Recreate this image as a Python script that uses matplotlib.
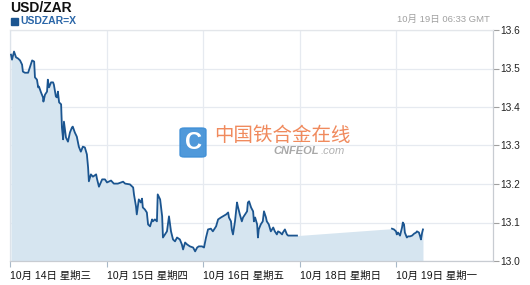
import matplotlib
matplotlib.use("Agg")
import matplotlib.pyplot as plt
from matplotlib.patches import FancyBboxPatch, Rectangle

plt.rcParams['font.family'] = ['Liberation Sans', 'Noto Sans CJK SC', 'DejaVu Sans']

title = "USD/ZAR"
series_name = "USDZAR=X"
timestamp = "10月 19日 06:33 GMT"
tick_labels = ["10月 14日 星期三", "10月 15日 星期四", "10月 16日 星期五",
               "10月 18日 星期日", "10月 19日 星期一"]
tick_hours = [0, 24, 48, 72, 96]
y_ticks = [13.0, 13.1, 13.2, 13.3, 13.4, 13.5, 13.6]

# segment 1 (hours since 14 Oct on the trading axis)
t1 = [0.25, 0.5, 1.0, 1.5, 2.0, 2.5, 3.0, 3.2, 3.7, 4.5, 5.0, 5.5, 6.0, 6.2, 6.7, 7.0,
      7.2, 7.7, 8.2, 8.3, 8.7, 9.2, 9.4, 9.7, 10.2, 10.7, 10.9, 11.4, 11.7, 11.9, 12.2,
      12.7, 12.9, 13.2, 13.4, 13.9, 14.4, 14.9, 15.4, 15.6, 16.1, 16.6, 17.1, 17.6, 18.1,
      18.6, 19.1, 19.4, 19.6, 20.1, 20.6, 21.4, 21.6, 22.1, 22.9, 23.6, 24.1, 25.1, 25.8,
      26.8, 28.1, 28.6, 29.8, 30.6, 30.8, 31.3, 31.5, 32.0, 32.5, 32.8, 33.0, 33.5, 34.0,
      34.3, 34.8, 35.3, 35.5, 36.0, 36.5, 36.7, 37.3, 37.8, 38.0, 38.5, 39.0, 39.5, 40.0,
      40.5, 41.0, 41.5, 42.2, 42.7, 43.0, 43.5, 44.0, 44.7, 45.5, 46.0, 46.5, 46.9, 47.7,
      48.2, 48.7, 49.2, 49.9, 50.4, 51.2, 51.7, 52.4, 52.9, 53.7, 54.2, 54.4, 54.9, 55.1,
      55.4, 55.9, 56.4, 56.6, 57.1, 57.6, 57.9, 58.4, 58.9, 59.1, 59.4, 59.9, 60.4, 60.6,
      60.9, 61.4, 61.6, 61.8, 62.3, 62.8, 63.1, 63.6, 63.8, 64.3, 64.8, 65.4, 65.8, 66.3,
      66.6, 67.1, 67.6, 67.8, 68.3, 68.8, 69.1, 71.3]
v1 = [13.536, 13.523, 13.544, 13.529, 13.526, 13.521, 13.510, 13.492, 13.489, 13.489,
      13.505, 13.521, 13.518, 13.477, 13.471, 13.451, 13.453, 13.438, 13.425, 13.414,
      13.432, 13.440, 13.471, 13.451, 13.464, 13.464, 13.458, 13.427, 13.425, 13.440,
      13.412, 13.407, 13.347, 13.316, 13.362, 13.321, 13.310, 13.334, 13.347, 13.349,
      13.334, 13.323, 13.297, 13.284, 13.297, 13.295, 13.277, 13.243, 13.207, 13.225,
      13.219, 13.225, 13.214, 13.193, 13.212, 13.212, 13.204, 13.209, 13.201, 13.201,
      13.206, 13.201, 13.199, 13.191, 13.173, 13.142, 13.121, 13.160, 13.152, 13.162,
      13.139, 13.134, 13.126, 13.095, 13.090, 13.108, 13.103, 13.108, 13.103, 13.173,
      13.160, 13.116, 13.061, 13.069, 13.077, 13.116, 13.077, 13.056, 13.051, 13.061,
      13.056, 13.043, 13.030, 13.048, 13.043, 13.038, 13.035, 13.025, 13.035, 13.038,
      13.038, 13.035, 13.061, 13.082, 13.084, 13.077, 13.090, 13.108, 13.113, 13.116,
      13.121, 13.126, 13.113, 13.103, 13.082, 13.069, 13.103, 13.152, 13.142, 13.121,
      13.103, 13.113, 13.121, 13.129, 13.152, 13.155, 13.139, 13.129, 13.103, 13.113,
      13.095, 13.061, 13.082, 13.095, 13.103, 13.129, 13.113, 13.103, 13.095, 13.077,
      13.087, 13.077, 13.069, 13.077, 13.074, 13.069, 13.074, 13.082, 13.069, 13.066,
      13.066]

# segment 2
t2 = [94.9, 95.4, 95.9, 96.1, 96.4, 96.9, 97.4, 97.6, 97.9, 98.1, 98.6, 98.9, 99.4,
      99.9, 100.4, 100.9, 101.1, 101.6, 101.9, 102.1, 102.4, 102.6]
v2 = [13.084, 13.082, 13.077, 13.069, 13.074, 13.066, 13.087, 13.100, 13.095, 13.074,
      13.061, 13.064, 13.064, 13.066, 13.071, 13.074, 13.077, 13.074, 13.064, 13.056,
      13.074, 13.082]

W, H = 530, 285
fig = plt.figure(figsize=(W / 100, H / 100), dpi=100)
ax = fig.add_axes([10 / W, 1 - 261 / H, 483 / W, 231 / H])

line_c = '#1b5590'
fill_c = '#d6e5f0'
grid_c = '#e6eaf0'

ax.fill_between(t1 + t2, v1 + v2, 13.0, color=fill_c, lw=0, zorder=1)
ax.plot(t1, v1, color=line_c, lw=1.3, zorder=3)
ax.plot(t2, v2, color=line_c, lw=1.3, zorder=3)

ax.set_xlim(0, 120)
ax.set_ylim(13.0, 13.6)
ax.set_xticks(tick_hours)
ax.set_xticklabels(tick_labels, ha='left', fontsize=7.5,
                   family=['Liberation Sans', 'Noto Sans CJK SC'])
ax.set_yticks(y_ticks)
ax.set_yticklabels([f"{v:.1f}" for v in y_ticks], fontsize=7.3, color='#222222')
ax.yaxis.tick_right()
ax.tick_params(axis='x', length=4, color='#a8b8c8', pad=3, labelcolor='#111111')
ax.tick_params(axis='y', length=4, color='#a0a0a0', pad=1)
ax.grid(True, color=grid_c, lw=0.9, zorder=0)
ax.set_axisbelow(True)
for side, c in [('left', '#dde3ea'), ('top', '#e3e6ea'), ('right', '#c8ccd2'), ('bottom', '#c8ccd2')]:
    ax.spines[side].set_color(c)
    ax.spines[side].set_linewidth(0.9)

# header texts
fig.text(10 / W, 1 - 7.5 / H, title, fontsize=10, fontweight='bold', color='#111111',
         va='center', ha='left')
fig.patches.append(Rectangle((11 / W, 1 - 25 / H), 7 / W, 7 / H, transform=fig.transFigure,
                             color='#1b5590', figure=fig))
fig.text(20 / W, 1 - 21 / H, series_name, fontsize=7.5, fontweight='bold', color='#2a66a8',
         va='center', ha='left')
fig.text(490 / W, 1 - 19 / H, timestamp, fontsize=6.8, color='#a0a0a0', va='center', ha='right',
         family=['Liberation Sans', 'Noto Sans CJK SC'])

# watermark logo
fig.patches.append(FancyBboxPatch((180 / W, 1 - 157 / H), 26 / W, 29 / H,
                                  boxstyle='round,pad=0,rounding_size=0.008',
                                  transform=fig.transFigure, color='#3d8ed6', alpha=0.9,
                                  figure=fig, zorder=5))
fig.text(193 / W, 1 - 142.5 / H, 'C', fontsize=17, fontweight='bold', color='white',
         ha='center', va='center', zorder=6)
fig.text(214 / W, 1 - 136 / H, '中国铁合金在线', fontsize=14, color='#f08a5d',
         ha='left', va='center', family=['Noto Sans CJK SC'], zorder=6)
fig.text(273 / W, 1 - 151 / H, 'CNFEOL', fontsize=8, color='#a8a8a8', fontweight='bold',
         style='italic', ha='left', va='center', zorder=6)
fig.text(321 / W, 1 - 151 / H, '.com', fontsize=8, color='#b0b0b0',
         style='italic', ha='left', va='center', zorder=6)

fig.savefig('out.png', dpi=100)
